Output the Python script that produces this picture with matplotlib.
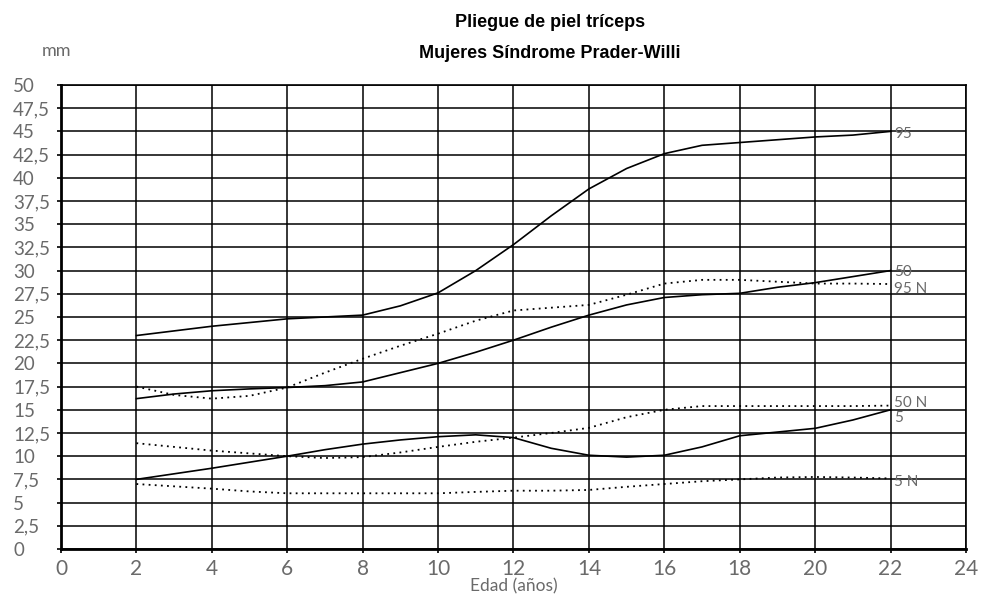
import matplotlib
matplotlib.use("Agg")
import matplotlib.pyplot as plt
from matplotlib import font_manager as fm

# Triceps skinfold percentiles (mm) by age (years)
ages = [2, 3, 4, 5, 6, 7, 8, 9, 10, 11, 12, 13, 14, 15, 16, 17, 18, 19, 20, 21, 22]

p95 = [23.0, 23.5, 24.0, 24.4, 24.8, 25.0, 25.2, 26.2, 27.6, 30.0, 32.8, 35.9, 38.8, 41.0, 42.6, 43.5, 43.8, 44.1, 44.4, 44.6, 45.0]
p50 = [16.2, 16.7, 17.05, 17.25, 17.4, 17.6, 18.0, 19.0, 20.0, 21.2, 22.5, 23.9, 25.2, 26.3, 27.1, 27.4, 27.55, 28.2, 28.7, 29.35, 30.0]
p5 = [7.5, 8.1, 8.7, 9.35, 10.0, 10.7, 11.3, 11.75, 12.1, 12.3, 12.0, 10.85, 10.1, 9.9, 10.1, 11.0, 12.2, 12.6, 13.0, 13.9, 15.0]

p95n = [17.5, 16.6, 16.2, 16.5, 17.4, 19.0, 20.5, 21.9, 23.2, 24.6, 25.7, 26.0, 26.3, 27.4, 28.6, 29.0, 29.0, 28.8, 28.6, 28.6, 28.55]
p50n = [11.4, 11.0, 10.6, 10.3, 10.0, 9.8, 9.9, 10.4, 11.0, 11.55, 12.0, 12.5, 13.05, 14.2, 15.0, 15.4, 15.4, 15.4, 15.4, 15.4, 15.45]
p5n = [7.0, 6.75, 6.5, 6.2, 6.0, 6.0, 6.0, 6.0, 6.0, 6.15, 6.28, 6.28, 6.36, 6.7, 7.0, 7.3, 7.5, 7.7, 7.76, 7.7, 7.6]

x_ticks = list(range(0, 25, 2))
y_ticks = [i * 2.5 for i in range(21)]
y_tick_labels = [("%g" % v).replace(".", ",") for v in y_ticks]

series = [
    (p95, "-", "95", 0.3),
    (p50, "-", "50", 0.4),
    (p5, "-", "5", -0.3),
    (p95n, "dotted", "95 N", 0.1),
    (p50n, "dotted", "50 N", 0.9),
    (p5n, "dotted", "5 N", 0.2),
]

available = {f.name for f in fm.fontManager.ttflist}
label_font = "Lato" if "Lato" in available else "DejaVu Sans"
title_font = "Liberation Sans Narrow" if "Liberation Sans Narrow" in available else "Liberation Sans"
gray = "#6a6a6a"

fig = plt.figure(figsize=(9.82, 6.04), dpi=100)
ax = fig.add_axes([0.0621, 0.0911, 0.9216, 0.7682])

for vals, ls, name, dy in series:
    if ls == "dotted":
        ax.plot(ages, vals, color="black", lw=1.3, linestyle=(0, (1, 2.4)), zorder=3)
    else:
        ax.plot(ages, vals, color="black", lw=1.2, linestyle="-", zorder=3)
    ax.text(22.1, vals[-1] - 0.6 + dy, name, color=gray, fontsize=11,
            family=label_font, ha="left", va="center")

ax.set_xlim(0, 24)
ax.set_ylim(0, 50)
ax.set_xticks(x_ticks)
ax.set_yticks(y_ticks)
ax.set_yticklabels(y_tick_labels)
ax.grid(True, color="black", lw=1.1)
ax.set_axisbelow(True)

for side in ["left", "bottom"]:
    ax.spines[side].set_linewidth(2.0)
for side in ["top", "right"]:
    ax.spines[side].set_linewidth(1.2)

ax.tick_params(axis="y", length=3, width=1.2, pad=31.5, labelsize=13.5, labelcolor=gray)
ax.tick_params(axis="x", length=3, width=1.2, pad=4, labelsize=15, labelcolor=gray)
for lab in ax.get_yticklabels():
    lab.set_horizontalalignment("left")
    lab.set_family(label_font)
for lab in ax.get_xticklabels():
    lab.set_family(label_font)

ax.set_xlabel("Edad (años)", color=gray, fontsize=12.5, family=label_font, labelpad=0)
fig.text(0.043, 0.915, "mm", color=gray, fontsize=13, family=label_font,
         ha="left", va="center")

fig.text(0.56, 0.962, "Pliegue de piel tríceps", fontsize=13, fontweight="bold",
         family=title_font, ha="center", va="center")
fig.text(0.56, 0.912, "Mujeres Síndrome Prader-Willi", fontsize=13, fontweight="bold",
         family=title_font, ha="center", va="center")

fig.savefig("out.png", dpi=100)
